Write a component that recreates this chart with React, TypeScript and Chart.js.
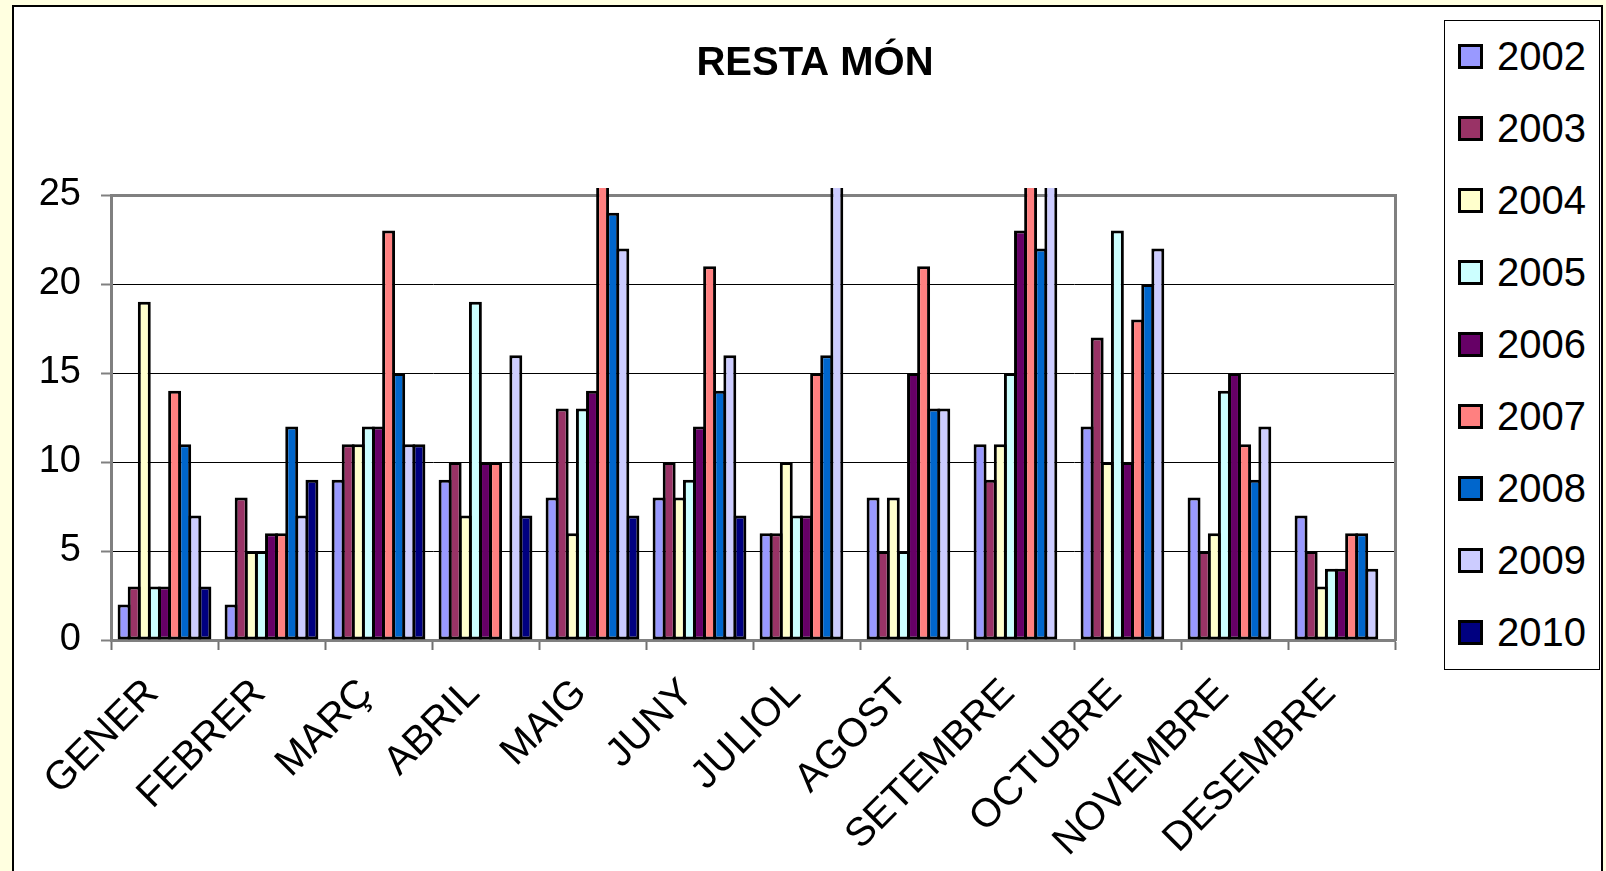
import React, { useEffect, useRef } from "react";
import { Chart, registerables } from "chart.js";

Chart.register(...registerables);

const months = ["GENER", "FEBRER", "MARÇ", "ABRIL", "MAIG", "JUNY", "JULIOL", "AGOST", "SETEMBRE", "OCTUBRE", "NOVEMBRE", "DESEMBRE"];
const years = ["2002", "2003", "2004", "2005", "2006", "2007", "2008", "2009", "2010"];
const yTicks = [0, 5, 10, 15, 20, 25];

const v2002 = [2, 2, 9, 9, 8, 8, 6, 8, 11, 12, 8, 7];
const v2003 = [3, 8, 11, 10, 13, 10, 6, 5, 9, 17, 5, 5];
const v2004 = [19, 5, 11, 7, 6, 8, 10, 8, 11, 10, 6, 3];
const v2005 = [3, 5, 12, 19, 13, 9, 7, 5, 15, 23, 14, 4];
const v2006 = [3, 6, 12, 10, 14, 12, 7, 15, 23, 10, 15, 4];
const v2007 = [14, 6, 23, 10, 27, 21, 15, 21, 27, 18, 11, 6];
const v2008 = [11, 12, 15, null, 24, 14, 16, 13, 22, 20, 9, 6];
const v2009 = [7, 7, 11, 16, 22, 16, 30, 13, 28, 22, 12, 4];
const v2010 = [3, 9, 11, 7, 7, 7, null, null, null, null, null, null];

const seriesValues = [v2002, v2003, v2004, v2005, v2006, v2007, v2008, v2009, v2010];
const colors = ["#9999FF", "#993366", "#FFFFCC", "#CCFFFF", "#660066", "#FF8080", "#0066CC", "#CCCCFF", "#000080"];

const FONT = "'Liberation Sans', Arial, sans-serif";

export default function App() {
  const canvasRef = useRef<HTMLCanvasElement | null>(null);

  useEffect(() => {
    if (!canvasRef.current) return;
    const chart = new Chart(canvasRef.current, {
      type: "bar",
      data: {
        labels: months,
        datasets: years.map((y, i) => ({
          label: y,
          data: seriesValues[i],
          backgroundColor: colors[i],
          borderColor: "#000000",
          borderWidth: 3,
          borderSkipped: false,
          xAxisID: "x",
          yAxisID: "y",
          barPercentage: 1.28,
          categoryPercentage: 0.85,
          clip: { left: 5, top: 7, right: 5, bottom: 5 },
        })),
      },
      options: {
        animation: false,
        responsive: false,
        maintainAspectRatio: false,
        layout: { padding: { left: 24, right: 0, top: 0, bottom: 0 } },
        plugins: {
          legend: { display: false },
          tooltip: { enabled: false },
          title: {
            display: true,
            text: "RESTA MÓN",
            color: "#000000",
            font: { family: FONT, size: 40, weight: "bold" },
            padding: { top: 40, bottom: 107 },
          },
        },
        scales: {
          x: {
            position: "bottom",
            offset: true,
            grid: {
              offset: true,
              drawOnChartArea: false,
              drawTicks: true,
              tickLength: 10,
              tickColor: "#707070",
              tickWidth: 2,
            },
            border: { display: true, color: "#808080", width: 3 },
            ticks: {
              autoSkip: false,
              minRotation: 45,
              maxRotation: 45,
              color: "#000000",
              padding: 20,
              labelOffset: -12,
              font: { family: FONT, size: 40 },
            },
            afterFit: (s: any) => {
              s.height = 231;
            },
          },
          y: {
            position: "left",
            min: 0,
            max: 25,
            afterBuildTicks: (s: any) => {
              s.ticks = yTicks.map((v) => ({ value: v }));
            },
            grid: {
              color: (c: any) => (c.tick && (c.tick.value === 25 || c.tick.value === 0) ? "#808080" : "#000000"),
              lineWidth: (c: any) => (c.tick && c.tick.value === 25 ? 3 : 1),
              tickColor: "#808080",
              tickLength: 10,
              tickWidth: 2,
            },
            border: { display: true, color: "#808080", width: 3 },
            ticks: {
              color: "#000000",
              padding: 20,
              font: { family: FONT, size: 38 },
            },
            afterFit: (s: any) => {
              s.width = 87;
            },
          },
          yR: {
            type: "linear",
            position: "right",
            display: true,
            grid: { display: false, drawOnChartArea: false, drawTicks: false },
            ticks: { display: false },
            border: { display: true, color: "#808080", width: 3 },
            afterFit: (s: any) => {
              s.width = 211;
            },
          },
        },
      },
    });
    return () => chart.destroy();
  }, []);

  return (
    <div style={{ position: "absolute", left: 0, top: 0, width: 1606, height: 871, overflow: "hidden", background: "#FFFFE0" }}>
      <div
        style={{
          position: "absolute",
          left: 12,
          top: 5,
          width: 1591,
          height: 900,
          background: "#FFFFFF",
          border: "2px solid #000000",
          boxSizing: "border-box",
        }}
      />
      <canvas ref={canvasRef} width={1606} height={871} style={{ position: "absolute", left: 0, top: 0, width: 1606, height: 871 }} />
      <div
        style={{
          position: "absolute",
          left: 1444,
          top: 20,
          width: 156,
          height: 650,
          border: "1px solid #000000",
          boxSizing: "border-box",
          background: "#FFFFFF",
        }}
      >
        {years.map((y, i) => (
          <div
            key={y}
            style={{
              position: "absolute",
              left: 0,
              top: 11 + i * 72.1,
              height: 48,
              display: "flex",
              alignItems: "center",
              fontFamily: FONT,
              fontSize: 40,
              color: "#000000",
              whiteSpace: "nowrap",
            }}
          >
            <span
              style={{
                display: "inline-block",
                width: 25,
                height: 25,
                marginLeft: 13,
                marginRight: 14,
                background: colors[i],
                border: "3px solid #000000",
                boxSizing: "border-box",
              }}
            />
            <span>{y}</span>
          </div>
        ))}
      </div>
    </div>
  );
}
